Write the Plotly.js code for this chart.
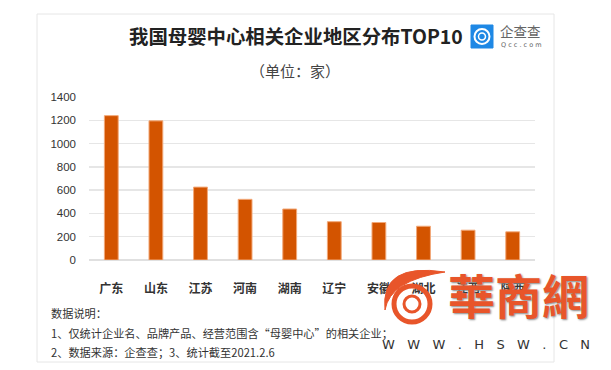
<!DOCTYPE html>
<html><head><meta charset="utf-8">
<script src="https://cdn.plot.ly/plotly-3.0.1.min.js"></script>
<style>html,body{margin:0;padding:0;background:#fff;}#c{width:611px;height:370px;}</style>
</head><body><div id="c"></div>
<script>
var categories = ["广东","山东","江苏","河南","湖南","辽宁","安徽","湖北","江西","陕西"];
var values = [1240, 1195, 626, 521, 438, 329, 322, 290, 256, 242];
var yTicks = [0,200,400,600,800,1000,1200,1400];
var titleText = "我国母婴中心相关企业地区分布TOP10";
var subtitleText = "（单位：家）";
var notes = ["数据说明：","1、仅统计企业名、品牌产品、经营范围含“母婴中心”的相关企业；","2、数据来源：企查查；3、统计截至2021.2.6"];

var F = "'Noto Sans CJK SC','Noto Sans',sans-serif";
var L = 89, T = 97, PW = 446, PH = 163;
function px(x){ return (x - L) / PW; }
function py(y){ return (T + PH - y) / PH; }

var trace = {type:"bar", x:categories, y:values,
  marker:{color:"#d35400", line:{color:"#f2a878", width:1}}, hoverinfo:"none"};

var ann = [
  {text:titleText, xref:"paper", yref:"paper", x:px(296), y:py(36), xanchor:"center", yanchor:"middle",
   showarrow:false, font:{family:F, size:19.4, weight:700, color:"#222"}},
  {text:subtitleText, xref:"paper", yref:"paper", x:px(295), y:py(70), xanchor:"center", yanchor:"middle",
   showarrow:false, font:{family:F, size:15, color:"#444"}},
  {text:"企查查", xref:"paper", yref:"paper", x:px(498), y:py(31), xanchor:"left", yanchor:"middle",
   showarrow:false, font:{family:F, size:13.5, color:"#666"}},
  {text:"Q c c . c o m", xref:"paper", yref:"paper", x:px(499), y:py(45), xanchor:"left", yanchor:"middle",
   showarrow:false, font:{family:"DejaVu Sans", size:6.5, color:"#666"}},
  {text:"華商網", xref:"paper", yref:"paper", x:px(518), y:py(293), xanchor:"center", yanchor:"middle",
   showarrow:false, font:{family:"Noto Sans CJK TC", size:47, weight:700, color:"#e8552a", shadow:"1px 1px 2px #888"}},
  {text:"W\u00a0\u00a0\u00a0W\u00a0\u00a0\u00a0W\u00a0\u00a0\u00a0.\u00a0\u00a0\u00a0H\u00a0\u00a0\u00a0S\u00a0\u00a0\u00a0W\u00a0\u00a0\u00a0.\u00a0\u00a0\u00a0C\u00a0\u00a0\u00a0N",
   xref:"paper", yref:"paper", x:px(486), y:py(344), xanchor:"center", yanchor:"middle",
   showarrow:false, font:{family:"DejaVu Sans", size:13, color:"#333", shadow:"1px 1px 1px #fff"}}
];
var noteY = [313, 333, 352];
for (var i=0;i<notes.length;i++){
  ann.push({text:notes[i], xref:"paper", yref:"paper", x:px(49), y:py(noteY[i]), xanchor:"left", yanchor:"middle",
    showarrow:false, font:{family:F, size:11.2, color:"#333"}});
}

var layout = {
  width:611, height:370, paper_bgcolor:"#fff", plot_bgcolor:"#fff",
  margin:{l:L, r:611-L-PW, t:T, b:370-T-PH},
  bargap:0.69, showlegend:false,
  xaxis:{tickfont:{family:F, size:12, weight:700, color:"#333"}, showline:false, ticks:"", fixedrange:true, ticklabelstandoff:20},
  yaxis:{range:[0,1400], tickvals:yTicks, tickfont:{family:"'Liberation Sans',Arial,sans-serif", size:11.5, color:"#333"},
    gridcolor:"#e6e6e6", gridwidth:1.5, zeroline:true, zerolinecolor:"#e0e0e0", zerolinewidth:1.5,
    ticks:"", ticklabelstandoff:12, fixedrange:true},
  shapes:[
    {type:"rect", xref:"paper", yref:"paper", x0:px(37), x1:px(554), y0:py(362), y1:py(14),
     line:{color:"#e6e6e6", width:1}, fillcolor:"rgba(0,0,0,0)", layer:"below"},
    {type:"rect", xref:"paper", yref:"paper", x0:px(471), x1:px(493), y0:py(48), y1:py(25),
     line:{color:"#1e88e5", width:1}, fillcolor:"#1e88e5"},
    {type:"circle", xref:"paper", yref:"paper", x0:px(474.5), x1:px(489.5), y0:py(44), y1:py(29),
     line:{color:"#fff", width:2}, fillcolor:"rgba(0,0,0,0)"},
    {type:"circle", xref:"paper", yref:"paper", x0:px(478.5), x1:px(485.5), y0:py(40), y1:py(33),
     line:{color:"#fff", width:1.5}, fillcolor:"rgba(0,0,0,0)"},
    {type:"circle", xref:"paper", yref:"paper", x0:px(394), x1:px(430), y0:py(322), y1:py(286),
     line:{color:"#e8552a", width:5}, fillcolor:"rgba(0,0,0,0)"},
    {type:"circle", xref:"paper", yref:"paper", x0:px(404), x1:px(420), y0:py(312), y1:py(296),
     line:{color:"#e8552a", width:3}, fillcolor:"#fff"},
    {type:"path", xref:"paper", yref:"paper",
     path:"M "+px(445)+","+py(272)+" Q "+px(380)+","+py(262)+" "+px(385)+","+py(310)+" Q "+px(390)+","+py(280)+" "+px(445)+","+py(272)+" Z",
     line:{color:"#e8552a", width:1}, fillcolor:"#e8552a"}
  ],
  annotations:ann
};
Plotly.newPlot("c",[trace],layout,{displayModeBar:false, staticPlot:true});
</script></body></html>
